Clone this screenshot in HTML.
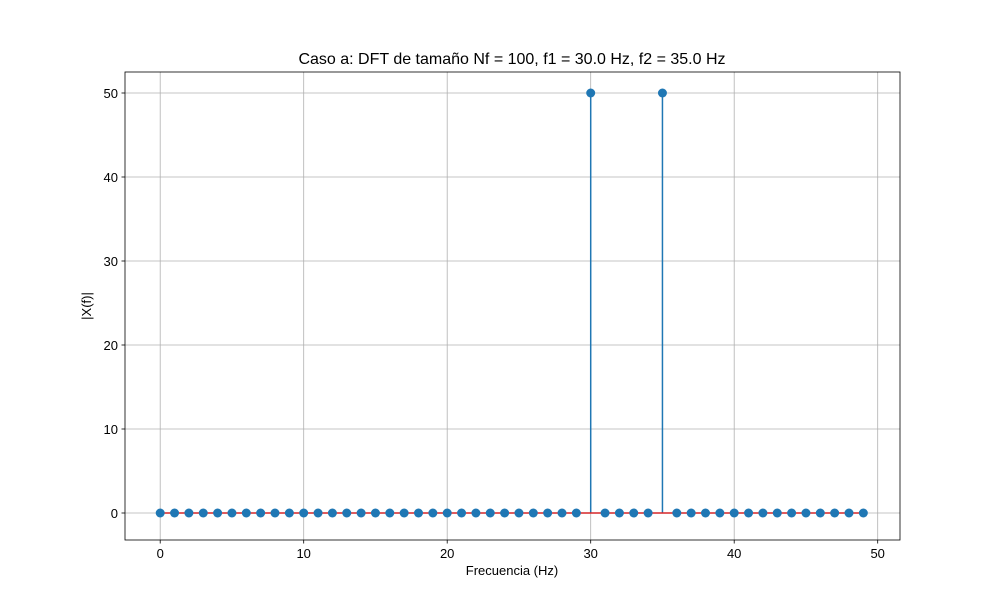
<!DOCTYPE html>
<html><head><meta charset="utf-8"><style>body{margin:0;background:#fff}svg text{font-family:"Liberation Sans",sans-serif}</style></head>
<body>
<svg id="c" width="1000" height="600" xmlns="http://www.w3.org/2000/svg"></svg>
<script>
const freqs = Array.from({length:50},(_,i)=>i);
const magnitudes = [0,0,0,0,0,0,0,0,0,0,0,0,0,0,0,0,0,0,0,0,0,0,0,0,0,0,0,0,0,0,50,0,0,0,0,50,0,0,0,0,0,0,0,0,0,0,0,0,0,0];
const xTicks = [0,10,20,30,40,50];
const yTicks = [0,10,20,30,40,50];
const L=125,R=900,T=72,B=540;
const xs=v=>160.2+v*14.35;
const ys=v=>513-v*8.4;
const svg=document.getElementById('c');
const NS='http://www.w3.org/2000/svg';
function mk(t,a,p){const e=document.createElementNS(NS,t);for(const k in a)e.setAttribute(k,a[k]);(p||svg).appendChild(e);return e;}
let e=mk('text',{x:512,y:64,'text-anchor':'middle','font-size':16});e.textContent='Caso a: DFT de tamaño Nf = 100, f1 = 30.0 Hz, f2 = 35.0 Hz';


xTicks.forEach(t=>{const x=xs(t);
 let g=mk('line',{x1:x,x2:x,y1:T,y2:B,stroke:'#b0b0b0','stroke-width':0.8});
 
 
 mk('line',{x1:x,x2:x,y1:B,y2:B+3.5,stroke:'#000','stroke-width':0.8});
 let l=mk('text',{x:x,y:B+18,'text-anchor':'middle','font-size':13});l.textContent=t;
 
 });
yTicks.forEach(t=>{const y=ys(t);
 let g=mk('line',{x1:L,x2:R,y1:y,y2:y,stroke:'#b0b0b0','stroke-width':0.8});
 
 
 mk('line',{x1:L-3.5,x2:L,y1:y,y2:y,stroke:'#000','stroke-width':0.8});
 let l=mk('text',{x:L-7,y:y+5,'text-anchor':'end','font-size':13});l.textContent=t;
 
 });
freqs.forEach((f,i)=>{const v=magnitudes[i];
 let s=mk('line',{x1:xs(f),x2:xs(f),y1:ys(0),y2:ys(v),stroke:'#1f77b4','stroke-width':1.5});
 
 });
let bl=mk('line',{x1:xs(freqs[0]),x2:xs(freqs[freqs.length-1]),y1:ys(0),y2:ys(0),stroke:'#d62728','stroke-width':1.5});


freqs.forEach((f,i)=>{
 let m=mk('circle',{cx:xs(f),cy:ys(magnitudes[i]),r:4.5,fill:'#1f77b4'});
 
 });
let fr=mk('rect',{x:L,y:T,width:R-L,height:B-T,fill:'none',stroke:'#000','stroke-width':0.8});


let xl=mk('text',{x:512,y:575,'text-anchor':'middle','font-size':13});xl.textContent='Frecuencia (Hz)';


let yl=mk('text',{x:91,y:306,'text-anchor':'middle','font-size':13,transform:'rotate(-90 91 306)'});yl.textContent='|X(f)|';


</script>
</body></html>
